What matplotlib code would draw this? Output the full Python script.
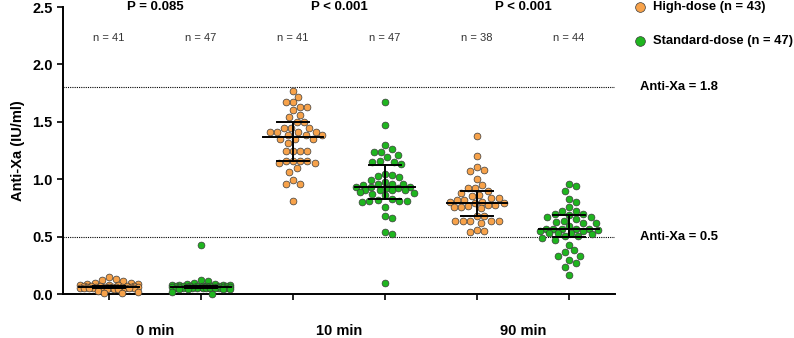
import numpy as np
import matplotlib
matplotlib.use("Agg")
import matplotlib.pyplot as plt
from matplotlib import transforms

plt.rcParams['font.family'] = ['Liberation Sans', 'DejaVu Sans']

# ---------------- data ----------------
time_labels = ["0 min", "10 min", "90 min"]
p_labels = ["P = 0.085", "P < 0.001", "P < 0.001"]
n_labels = ["n = 41", "n = 47", "n = 41", "n = 47", "n = 38", "n = 44"]

high_0 = [0.15, 0.13, 0.12, 0.11, 0.10, 0.10, 0.09, 0.09, 0.08, 0.08, 0.08,
          0.07, 0.07, 0.07, 0.07, 0.07, 0.06, 0.06, 0.06, 0.06, 0.06, 0.06,
          0.06, 0.06, 0.06, 0.05, 0.05, 0.05, 0.05, 0.05, 0.05, 0.05, 0.05,
          0.05, 0.04, 0.04, 0.04, 0.03, 0.02, 0.01, 0.01]
std_0 = [0.43, 0.12, 0.11, 0.10, 0.09, 0.09, 0.08, 0.08, 0.08, 0.08,
         0.07, 0.07, 0.07, 0.07, 0.07, 0.07, 0.07, 0.07, 0.07,
         0.06, 0.06, 0.06, 0.06, 0.06, 0.06, 0.06, 0.06, 0.06, 0.06, 0.06, 0.06,
         0.05, 0.05, 0.05, 0.05, 0.05, 0.05, 0.05, 0.05, 0.05, 0.05,
         0.04, 0.04, 0.04, 0.04, 0.02, 0.00]
high_10 = [1.77, 1.72, 1.67, 1.67, 1.63, 1.63, 1.60, 1.56, 1.54, 1.50, 1.50,
           1.45, 1.45, 1.45, 1.41, 1.41, 1.41, 1.41, 1.39, 1.39, 1.39, 1.35,
           1.35, 1.35, 1.32, 1.25, 1.25, 1.25, 1.25, 1.16, 1.16, 1.16, 1.16,
           1.14, 1.14, 1.10, 1.06, 0.99, 0.96, 0.96, 0.81]
std_10 = [1.67, 1.47, 1.30, 1.26, 1.24, 1.24, 1.21, 1.19, 1.16, 1.15, 1.15,
          1.13, 1.05, 1.04, 1.03, 1.02, 0.99, 0.98, 0.96, 0.96, 0.96, 0.95,
          0.93, 0.93, 0.93, 0.92, 0.92, 0.91, 0.91, 0.91, 0.91, 0.89, 0.88,
          0.87, 0.86, 0.83, 0.82, 0.81, 0.81, 0.81, 0.80, 0.76, 0.68, 0.66,
          0.54, 0.52, 0.10]
high_90 = [1.38, 1.20, 1.11, 1.08, 1.07, 1.00, 0.95, 0.92, 0.92, 0.90, 0.88,
           0.86, 0.85, 0.84, 0.84, 0.82, 0.82, 0.80, 0.80, 0.79, 0.79, 0.78,
           0.78, 0.77, 0.76, 0.76, 0.75, 0.68, 0.68, 0.64, 0.64, 0.64, 0.64,
           0.64, 0.62, 0.56, 0.55, 0.54]
std_90 = [0.96, 0.94, 0.90, 0.83, 0.80, 0.76, 0.72, 0.72, 0.70, 0.70, 0.69,
          0.67, 0.67, 0.65, 0.64, 0.63, 0.62, 0.62, 0.59, 0.57, 0.57, 0.57,
          0.57, 0.57, 0.56, 0.55, 0.55, 0.53, 0.53, 0.53, 0.52, 0.51, 0.51,
          0.49, 0.47, 0.43, 0.38, 0.37, 0.33, 0.33, 0.30, 0.27, 0.24, 0.17]

medians = [0.06, 0.06, 1.37, 0.935, 0.79, 0.566]
q1 = [0.05, 0.05, 1.16, 0.828, 0.68, 0.493]
q3 = [0.07, 0.07, 1.495, 1.127, 0.90, 0.688]

groups = [high_0, std_0, high_10, std_10, high_90, std_90]
ORANGE = '#F7A24A'
GREEN = '#1FB51F'
colors = [ORANGE, GREEN] * 3


def swarm_offsets(ax, values, center, diam=7.2, max_half=30):
    # simple beeswarm in pixel space, returns x positions in data units
    pts = ax.transData.transform(np.column_stack([np.full(len(values), center), values]))
    ys = pts[:, 1]
    px_per_unit = ax.transData.transform([[1, 0]])[0, 0] - ax.transData.transform([[0, 0]])[0, 0]
    step = diam / 4
    cands = [0.0]
    k = 1
    while k * step <= max_half:
        cands += [k * step, -k * step]
        k += 1
    placed = []
    offs = np.zeros(len(values))
    for i in np.argsort(-ys):
        y = ys[i]
        best = None
        best_score = -1
        for c in cands:
            if placed:
                d = min(np.hypot(c - px, y - py) for px, py in placed)
            else:
                d = np.inf
            if d >= diam:
                best = c
                break
            if d > best_score:
                best_score, fallback = d, c
        if best is None:
            best = fallback
        placed.append((best, y))
        offs[i] = best
    return center + offs / px_per_unit


fig = plt.figure(figsize=(7.94, 3.38), dpi=100)
ax = fig.add_axes([0.0793, 0.130, 0.6953, 0.849])
ax.set_xlim(-0.5, 5.5)
ax.set_ylim(0, 2.5)

# reference lines
ax.axhline(1.8, color='black', lw=0.8, ls=(0, (1, 1)))
ax.axhline(0.5, color='black', lw=0.8, ls=(0, (1, 1)))

for i, vals in enumerate(groups):
    xs = swarm_offsets(ax, vals, i)
    ax.scatter(xs, vals, s=24, facecolor=colors[i], edgecolor='#3a3a3a',
               linewidth=0.5, zorder=3, clip_on=False)
    # median + IQR
    ax.plot([i - 0.33, i + 0.33], [medians[i]] * 2, color='black', lw=1.4, zorder=4)
    ax.plot([i - 0.17, i + 0.17], [q1[i]] * 2, color='black', lw=1.4, zorder=4)
    ax.plot([i - 0.17, i + 0.17], [q3[i]] * 2, color='black', lw=1.4, zorder=4)
    ax.plot([i, i], [q1[i], q3[i]], color='black', lw=1.4, zorder=4)
    ax.text(i, 2.23, n_labels[i], ha='center', va='center', fontsize=8, color='#333333')

for j in range(3):
    ax.text(2 * j + 0.5, 2.5, p_labels[j], ha='center', va='center',
            fontsize=9.5, fontweight='bold')
    ax.text(2 * j + 0.5, -0.13, time_labels[j], ha='center', va='center',
            fontsize=10.5, fontweight='bold',
            transform=transforms.blended_transform_factory(ax.transData, ax.transAxes))

# axes styling
ax.spines['top'].set_visible(False)
ax.spines['right'].set_visible(False)
ax.spines['left'].set_linewidth(1.4)
ax.spines['bottom'].set_linewidth(1.4)
ax.set_xticks(range(6))
ax.set_xticklabels([])
ax.set_yticks(np.arange(0, 2.51, 0.5))
ax.set_yticklabels([f"{v:.1f}" for v in np.arange(0, 2.51, 0.5)], fontsize=10.5, fontweight='bold')
ax.tick_params(axis='both', width=1.2, length=4, direction='out')
ax.set_ylabel('Anti-Xa (IU/ml)', fontsize=10.5, fontweight='bold', labelpad=5)

# annotation of threshold lines
tr = transforms.blended_transform_factory(fig.transFigure, ax.transData)
ax.text(0.806, 1.8, 'Anti-Xa = 1.8', transform=tr, ha='left', va='center',
        fontsize=9.4, fontweight='bold', clip_on=False)
ax.text(0.806, 0.5, 'Anti-Xa = 0.5', transform=tr, ha='left', va='center',
        fontsize=9.4, fontweight='bold', clip_on=False)

# legend
fig.lines.append(plt.Line2D([0.8065], [0.978], marker='o', ls='none', ms=7,
                            mfc=ORANGE, mec='#3a3a3a', mew=0.5, transform=fig.transFigure))
fig.lines.append(plt.Line2D([0.8065], [0.878], marker='o', ls='none', ms=7,
                            mfc=GREEN, mec='#3a3a3a', mew=0.5, transform=fig.transFigure))
fig.text(0.822, 0.978, 'High-dose (n = 43)', ha='left', va='center', fontsize=9.4, fontweight='bold')
fig.text(0.822, 0.878, 'Standard-dose (n = 47)', ha='left', va='center', fontsize=9.4, fontweight='bold')

fig.savefig('out.png', dpi=100)
